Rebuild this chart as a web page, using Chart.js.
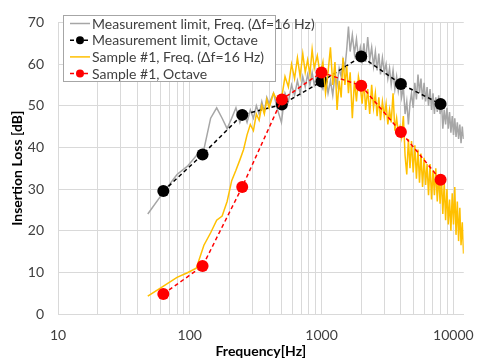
<!DOCTYPE html>
<html>
<head>
<meta charset="utf-8">
<script src="https://cdn.jsdelivr.net/npm/chart.js@4/dist/chart.umd.min.js"></script>
<style>
  body { margin: 0; background: #fff; }
  #wrap { width: 487px; height: 360px; }
</style>
</head>
<body>
<div id="wrap"><canvas id="lossChart" width="487" height="360"></canvas></div>
<script>
// Narrow-band spectra (Δf = 16 Hz)
const freqHz = [
  48, 64, 80, 96, 112, 128, 144, 160, 176, 192,
  208, 224, 240, 256, 272, 288, 304, 320, 336, 352,
  368, 384, 400, 432, 464, 496, 528, 560, 592, 624,
  656, 688, 720, 752, 784, 816, 848, 880, 928, 976,
  1024, 1072, 1120, 1168, 1216, 1264, 1312, 1360, 1408, 1456,
  1504, 1552, 1600, 1648, 1712, 1776, 1840, 1904, 1968, 2032,
  2096, 2160, 2240, 2320, 2400, 2480, 2560, 2640, 2720, 2800,
  2896, 2992, 3088, 3184, 3280, 3376, 3488, 3600, 3712, 3824,
  3936, 4048, 4176, 4304, 4432, 4560, 4688, 4816, 4960, 5104,
  5248, 5392, 5536, 5680, 5840, 6000, 6160, 6320, 6480, 6656,
  6832, 7008, 7184, 7360, 7552, 7744, 7936, 8128, 8320, 8528,
  8736, 8944, 9152, 9360, 9584, 9808, 10032, 10256, 10480, 10720,
  10960, 11200, 11440, 11696, 11952
];

const limitFreq = [
  24, 29.5, 33.5, 35.5, 38, 39.5, 47, 49.5, 47, 44.5,
  47, 49.5, 46, 48.5, 46, 49, 47, 50, 48, 51,
  48.5, 52, 50.5, 53, 49, 46, 53, 51, 55, 52.5,
  56, 53, 57, 54.5, 57.5, 55, 58, 55, 57.5, 55.5,
  54, 57, 53, 56, 52.5, 57.5, 55, 59, 57, 61,
  59, 63.5, 69, 63, 67, 62.5, 66, 61.5, 64, 61,
  65, 60.5, 66.5, 61, 64, 59.5, 63, 58.5, 62.5, 57.5,
  61.5, 58, 60, 56.5, 59, 55, 58.5, 54, 57, 53.5,
  56, 52, 54.5, 48, 51, 45.5, 50.5, 53, 49.5, 55.5,
  51.5, 57.5, 53, 56.5, 51.5, 55.5, 51, 54.5, 50, 54,
  49, 53, 48, 52, 48.5, 52.5, 48, 51, 44.5, 49,
  45.5, 49.5, 44.5, 48.5, 43.5, 47.5, 43, 47, 42.5, 46,
  42, 45.5, 41, 45, 42
];

const sampleFreq = [
  4.3, 6.8, 8.8, 9.9, 11, 16.5, 19.5, 22.5, 23.5, 27,
  32, 34.5, 37, 39.5, 43, 45.5, 44, 48, 46.5, 50,
  48, 51.5, 49.5, 53, 51, 51.5, 57, 54.5, 60, 56.5,
  61.5, 57, 62.5, 58, 61, 57.5, 63.5, 59, 62, 57.5,
  60.5, 53, 58, 64, 55, 60.5, 49, 56, 52, 61.5,
  55, 59.5, 53, 58, 47, 56, 51, 57, 54.5, 50.5,
  56, 49, 54, 48, 55, 49.5, 53, 47.5, 52, 46.5,
  51, 47.5, 50.5, 45.5, 49, 46, 53, 44, 47, 43.5,
  45, 42.5, 47.5, 38, 33.5, 42, 35, 41.5, 34, 40.5,
  32.5, 39.5, 31.5, 38.5, 30.5, 37.5, 31, 36, 28.5, 36,
  27.5, 34.5, 28.5, 35, 27, 33.5, 26.5, 33, 24, 31.5,
  22.5, 30, 21.5, 27.5, 20, 29, 21.5, 30.5, 19, 27,
  17.5, 25.5, 16.5, 22, 14.5
];

// Octave band values
const octaveHz = [63, 125, 250, 500, 1000, 2000, 4000, 8000];
const limitOctave = [29.5, 38.3, 47.8, 50.3, 55.8, 61.8, 55.2, 50.4];
const sampleOctave = [4.8, 11.5, 30.5, 51.5, 58.0, 54.8, 43.7, 32.2];

const xTickLabels = [10, 100, 1000, 10000];
const yTicks = [0, 10, 20, 30, 40, 50, 60, 70];

const seriesNames = [
  "Measurement limit, Freq. (\u0394f=16 Hz)",
  "Measurement limit, Octave",
  "Sample #1, Freq. (\u0394f=16 Hz)",
  "Sample #1, Octave",
];

const FONT = "Lato, 'Open Sans', sans-serif";
const TEXT = "#404040";
const GRID = "#d9d9d9";

function toPoints(xs, ys) {
  return xs.map((x, i) => ({ x: x, y: ys[i] }));
}

// minor log grid: 10,20,..,90,100,200,...
const gridFreqs = [];
xTickLabels.forEach((dec) => {
  for (let k = 1; k <= 9; k++) {
    if (k * dec <= 12000) gridFreqs.push(k * dec);
  }
});

// Legend drawn as a bordered box inside the plot, like the original
const boxLegend = {
  id: "boxLegend",
  afterDatasetsDraw(chart) {
    const ctx = chart.ctx;
    const x0 = 63.5, y0 = 15.5, w = 212, h = 66;
    ctx.save();
    ctx.fillStyle = "#fff";
    ctx.fillRect(x0, y0, w, h);
    ctx.strokeStyle = "#a6a6a6";
    ctx.lineWidth = 1;
    ctx.strokeRect(x0, y0, w, h);
    ctx.font = "14px " + FONT;
    ctx.textBaseline = "middle";
    chart.data.datasets.forEach((ds, i) => {
      const y = 23.5 + i * 16.7;
      ctx.strokeStyle = ds.borderColor;
      ctx.lineWidth = 1.5;
      ctx.setLineDash(ds.borderDash || []);
      ctx.beginPath();
      ctx.moveTo(70, y);
      ctx.lineTo(90, y);
      ctx.stroke();
      ctx.setLineDash([]);
      if (ds.pointRadius > 0) {
        ctx.fillStyle = ds.pointBackgroundColor;
        ctx.beginPath();
        ctx.arc(80, y, 4, 0, Math.PI * 2);
        ctx.fill();
      }
      ctx.fillStyle = TEXT;
      ctx.fillText(ds.label, 92, y + 0.5);
    });
    ctx.restore();
  },
};

new Chart(document.getElementById("lossChart"), {
  type: "line",
  data: {
    datasets: [
      {
        label: seriesNames[0],
        data: toPoints(freqHz, limitFreq),
        borderColor: "#a6a6a6",
        borderWidth: 1.5,
        pointRadius: 0,
        order: 4,
      },
      {
        label: seriesNames[1],
        data: toPoints(octaveHz, limitOctave),
        borderColor: "#000000",
        borderWidth: 1.5,
        borderDash: [4, 3],
        pointRadius: 6,
        pointBackgroundColor: "#000000",
        pointBorderWidth: 0,
        order: 3,
      },
      {
        label: seriesNames[2],
        data: toPoints(freqHz, sampleFreq),
        borderColor: "#ffc000",
        borderWidth: 1.5,
        pointRadius: 0,
        order: 2,
      },
      {
        label: seriesNames[3],
        data: toPoints(octaveHz, sampleOctave),
        borderColor: "#ff0000",
        borderWidth: 1.5,
        borderDash: [4, 3],
        pointRadius: 6,
        pointBackgroundColor: "#ff0000",
        pointBorderWidth: 0,
        order: 1,
      },
    ],
  },
  options: {
    responsive: false,
    animation: false,
    layout: { padding: { top: 14, right: 14, left: 0, bottom: 0 } },
    plugins: {
      legend: { display: false },
      tooltip: { enabled: false },
    },
    scales: {
      x: {
        type: "logarithmic",
        min: 10,
        max: 12000,
        afterFit: (scale) => { scale.height = 46; },
        afterBuildTicks: (scale) => {
          scale.ticks = gridFreqs.map((v) => ({ value: v }));
        },
        grid: { color: GRID, drawTicks: false },
        border: { color: GRID },
        ticks: {
          autoSkip: false,
          maxRotation: 0,
          padding: 13,
          color: TEXT,
          font: { family: FONT, size: 14 },
          callback: (v) => (xTickLabels.includes(v) ? String(v) : ""),
        },
        title: {
          display: true,
          text: "Frequency[Hz]",
          color: "#000",
          font: { family: FONT, size: 14, weight: "bold" },
          padding: { top: 1, bottom: 0 },
        },
      },
      y: {
        min: 0,
        max: 70,
        afterFit: (scale) => { scale.width = 58; },
        afterBuildTicks: (scale) => {
          scale.ticks = yTicks.map((v) => ({ value: v }));
        },
        grid: { color: GRID, drawTicks: false },
        border: { color: GRID },
        ticks: {
          padding: 14,
          color: TEXT,
          font: { family: FONT, size: 14 },
        },
        title: {
          display: true,
          text: "Insertion Loss [dB]",
          color: "#000",
          font: { family: FONT, size: 14, weight: "bold" },
          padding: { top: 9, bottom: 0 },
        },
      },
    },
  },
  plugins: [boxLegend],
});
</script>
</body>
</html>
